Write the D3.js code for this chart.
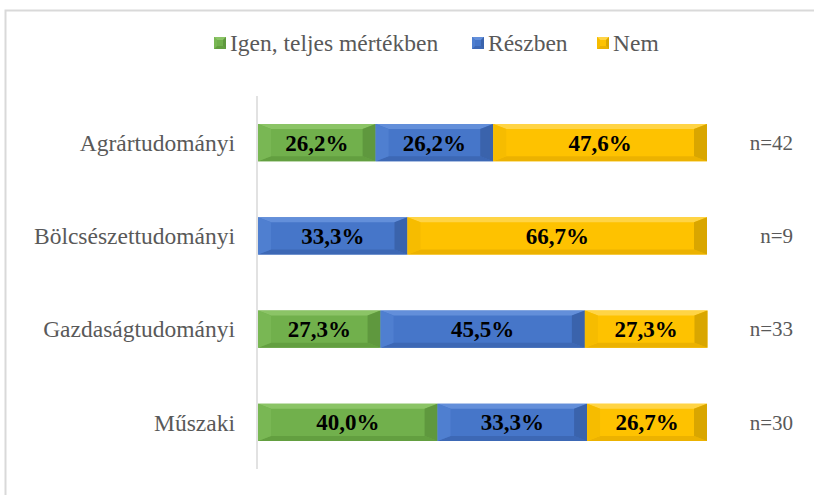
<!DOCTYPE html>
<html>
<head>
<meta charset="utf-8">
<script src="https://cdn.jsdelivr.net/npm/d3@7"></script>
<style>
  html, body { margin: 0; padding: 0; background: #ffffff; }
  svg { display: block; }
  svg text { font-family: "Liberation Serif", "Times New Roman", "DejaVu Serif", serif; }
</style>
</head>
<body>
<svg id="chart" width="814" height="495"></svg>
<script>
// Survey answers per faculty (percent of respondents)
const categories = ["Agrártudományi", "Bölcsészettudományi", "Gazdaságtudományi", "Műszaki"];
const seriesNames = ["Igen, teljes mértékben", "Részben", "Nem"];
const igenValues = [26.2, 0, 27.3, 40.0];
const reszbenValues = [26.2, 33.3, 45.5, 33.3];
const nemValues = [47.6, 66.7, 27.3, 26.7];
const sampleSizes = ["n=42", "n=9", "n=33", "n=30"];

// Bevel shades per series: main face, top, bottom, left, right
const palettes = [
  { face: "#71b04c", top: "#8bc466", bottom: "#639f40", left: "#79b754", right: "#5f983e" },
  { face: "#4676c9", top: "#638fda", bottom: "#3d68b5", left: "#4f7fd0", right: "#3a63ac" },
  { face: "#fec200", top: "#ffd445", bottom: "#ecb200", left: "#f6bc00", right: "#d9a600" }
];

const svg = d3.select("#chart");

// Outer chart frame
svg.append("rect")
  .attr("x", 5.5).attr("y", 10.5)
  .attr("width", 830).attr("height", 520)
  .attr("fill", "#ffffff")
  .attr("stroke", "#d9d9d9").attr("stroke-width", 2);

const x = d3.scaleLinear().domain([0, 100]).range([258, 707]);
const y = d3.scaleBand().domain(categories).range([96, 469])
  .paddingInner(0.603).paddingOuter(0.3015);

const rows = categories.map((c, i) => ({ cat: c, n: sampleSizes[i] }));
const stackData = categories.map((c, i) => ({ cat: c, s0: igenValues[i], s1: reszbenValues[i], s2: nemValues[i] }));
const layers = d3.stack().keys(["s0", "s1", "s2"])(stackData);

// Category axis line
svg.append("line")
  .attr("x1", 257).attr("x2", 257)
  .attr("y1", 96).attr("y2", 469)
  .attr("stroke", "#d9d9d9").attr("stroke-width", 1.5);

function bevelPaths(x0, x1, y0, y1, bx, by) {
  const w = x1 - x0, h = y1 - y0;
  const dx = Math.min(bx, w / 2), dy = Math.min(by, h / 2);
  return {
    face: [[x0, y0], [x1, y0], [x1, y1], [x0, y1]],
    top: [[x0, y0], [x1, y0], [x1 - dx, y0 + dy], [x0 + dx, y0 + dy]],
    bottom: [[x0, y1], [x1, y1], [x1 - dx, y1 - dy], [x0 + dx, y1 - dy]],
    left: [[x0, y0], [x0 + dx, y0 + dy], [x0 + dx, y1 - dy], [x0, y1]],
    right: [[x1, y0], [x1 - dx, y0 + dy], [x1 - dx, y1 - dy], [x1, y1]]
  };
}
const poly = pts => "M" + pts.map(p => p.join(",")).join("L") + "Z";
const fmt = v => d3.format(".1f")(v).replace(".", ",") + "%";

layers.forEach((layer, si) => {
  const g = svg.append("g").attr("class", "series-" + si);
  layer.forEach(d => {
    const v = d[1] - d[0];
    if (v <= 0) return;
    const x0 = x(d[0]), x1 = x(d[1]);
    const y0 = y(d.data.cat), y1 = y0 + y.bandwidth();
    const p = bevelPaths(x0, x1, y0, y1, 13, 5);
    const seg = g.append("g");
    ["face", "top", "bottom", "left", "right"].forEach(k => {
      seg.append("path").attr("d", poly(p[k])).attr("fill", palettes[si][k]);
    });
    seg.append("text")
      .attr("x", (x0 + x1) / 2)
      .attr("y", (y0 + y1) / 2)
      .attr("dy", "0.35em")
      .attr("text-anchor", "middle")
      .attr("font-weight", "bold")
      .attr("font-size", 23)
      .attr("fill", "#000000")
      .text(fmt(v));
  });
});

// Category labels
svg.append("g").selectAll("text").data(rows).join("text")
  .attr("x", 235)
  .attr("y", d => y(d.cat) + y.bandwidth() / 2)
  .attr("dy", "0.35em")
  .attr("text-anchor", "end")
  .attr("font-size", 23.5)
  .attr("fill", "#595959")
  .text(d => d.cat);

// Sample size labels
svg.append("g").selectAll("text").data(rows).join("text")
  .attr("x", 793)
  .attr("y", d => y(d.cat) + y.bandwidth() / 2)
  .attr("dy", "0.35em")
  .attr("text-anchor", "end")
  .attr("font-size", 21)
  .attr("fill", "#595959")
  .text(d => d.n);

// Legend
const legendX = [214, 472, 597];
const legend = svg.append("g");
seriesNames.forEach((name, i) => {
  const lx = legendX[i], ly = 37, s = 12;
  const p = bevelPaths(lx, lx + s, ly, ly + s, 3, 3);
  const m = legend.append("g");
  ["face", "top", "bottom", "left", "right"].forEach(k => {
    m.append("path").attr("d", poly(p[k])).attr("fill", palettes[i][k]);
  });
  legend.append("text")
    .attr("x", lx + s + 4)
    .attr("y", ly + s / 2)
    .attr("dy", "0.35em")
    .attr("font-size", 23.5)
    .attr("fill", "#595959")
    .text(name);
});
</script>
</body>
</html>
